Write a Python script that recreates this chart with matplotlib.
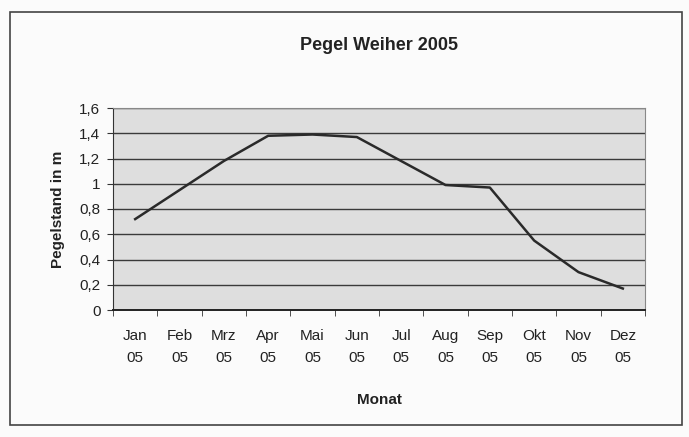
import numpy as np
import matplotlib.pyplot as plt
from matplotlib.patches import Rectangle
from matplotlib.ticker import FixedLocator

plt.rcParams['font.family'] = ['Liberation Sans', 'DejaVu Sans']

months = ['Jan\n05', 'Feb\n05', 'Mrz\n05', 'Apr\n05', 'Mai\n05', 'Jun\n05',
          'Jul\n05', 'Aug\n05', 'Sep\n05', 'Okt\n05', 'Nov\n05', 'Dez\n05']
pegel = [0.72, 0.95, 1.18, 1.38, 1.39, 1.37, 1.18, 0.99, 0.97, 0.55, 0.30, 0.17]
yticks = [0, 0.2, 0.4, 0.6, 0.8, 1.0, 1.2, 1.4, 1.6]
ylabels = ['0', '0,2', '0,4', '0,6', '0,8', '1', '1,2', '1,4', '1,6']

fig = plt.figure(figsize=(6.89, 4.37), dpi=100)
fig.patch.set_facecolor('#fbfbfb')

# outer chart border
fig.patches.append(Rectangle((10 / 689, 12 / 437), 672 / 689, 413 / 437,
                             transform=fig.transFigure, fill=False,
                             edgecolor='#444444', linewidth=1.2))

ax = fig.add_axes([113 / 689, 127 / 437, 532 / 689, 202 / 437])
ax.set_facecolor('#dedede')

x = np.arange(len(months))
ax.plot(x, pegel, color='#2a2a2a', linewidth=1.8, zorder=3)

ax.set_xlim(-0.5, len(months) - 0.5)
ax.set_ylim(0, 1.6)
ax.set_yticks(yticks)
ax.set_yticklabels(ylabels)
ax.grid(axis='y', color='#3a3a3a', linewidth=1.0)
ax.set_axisbelow(True)

ax.set_xticks(x)
ax.set_xticklabels(months, linespacing=1.7)
ax.tick_params(axis='x', which='major', length=0, pad=14, labelsize=11, colors='#222222')
ax.xaxis.set_minor_locator(FixedLocator(np.arange(-0.5, len(months), 1)))
ax.tick_params(axis='x', which='minor', length=4, color='#333333')
ax.tick_params(axis='y', length=4, pad=5, color='#333333', labelsize=11, colors='#222222')

for s in ['top', 'right']:
    ax.spines[s].set_color('#888888')
    ax.spines[s].set_linewidth(0.8)
ax.spines['left'].set_color('#333333')
ax.spines['bottom'].set_color('#222222')
ax.spines['bottom'].set_linewidth(1.4)

ax.set_title('Pegel Weiher 2005', fontsize=13, fontweight='bold', pad=42, color='#222222')
ax.set_xlabel('Monat', fontsize=11, fontweight='bold', labelpad=20, color='#222222')
ax.set_ylabel('Pegelstand in m', fontsize=11, fontweight='bold', labelpad=10, color='#222222')

fig.savefig('out.png', dpi=100, facecolor=fig.get_facecolor())
